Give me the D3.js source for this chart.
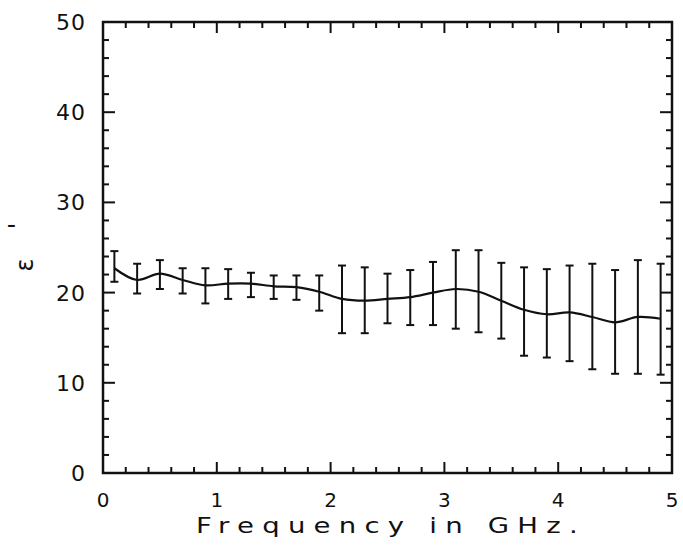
<!DOCTYPE html>
<html>
<head>
<script src="https://d3js.org/d3.v7.min.js"></script>
<style>
  body { margin: 0; background: #fff; }
  text { font-family: "DejaVu Sans", sans-serif; fill: #111; }
</style>
</head>
<body>
<svg id="chart" width="683" height="550"></svg>
<script>
// frequency (GHz), permittivity mean and error bar ends
const freq = [0.1, 0.3, 0.5, 0.7, 0.9, 1.1, 1.3, 1.5, 1.7, 1.9, 2.1, 2.3, 2.5,
              2.7, 2.9, 3.1, 3.3, 3.5, 3.7, 3.9, 4.1, 4.3, 4.5, 4.7, 4.9];
const eps  = [22.7, 21.4, 22.1, 21.4, 20.8, 21.0, 21.0, 20.7, 20.6, 20.1, 19.3, 19.1, 19.3,
              19.5, 20.0, 20.4, 20.1, 19.1, 18.1, 17.6, 17.8, 17.3, 16.7, 17.3, 17.1];
const hi   = [24.6, 23.2, 23.6, 22.7, 22.7, 22.6, 22.2, 21.9, 21.9, 21.9, 23.0, 22.8, 22.1,
              22.5, 23.4, 24.7, 24.7, 23.3, 22.8, 22.6, 23.0, 23.2, 22.5, 23.6, 23.2];
const lo   = [21.2, 19.9, 20.4, 19.9, 18.8, 19.3, 19.5, 19.3, 19.2, 18.0, 15.5, 15.5, 16.6,
              16.4, 16.4, 16.0, 15.6, 14.9, 13.0, 12.8, 12.4, 11.5, 11.0, 11.0, 10.9];
const xTicks = [0, 1, 2, 3, 4, 5];
const yTicks = [0, 10, 20, 30, 40, 50];

const pl = 103, pr = 672, pt = 22, pb = 473;
const svg = d3.select("#chart");
const x = d3.scaleLinear().domain([0, 5]).range([pl, pr]);
const y = d3.scaleLinear().domain([0, 50]).range([pb, pt]);

const minorX = d3.range(0, 5.001, 0.2);
const minorY = d3.range(0, 50.001, 2);
const tick = svg.append("g").attr("stroke", "#111").attr("stroke-width", 2);

// ticks on all four sides, pointing inward
minorX.forEach(v => {
  const major = Math.abs(v - Math.round(v)) < 1e-6;
  const len = major ? 11 : 6;
  tick.append("line").attr("x1", x(v)).attr("x2", x(v)).attr("y1", pb).attr("y2", pb - len);
  tick.append("line").attr("x1", x(v)).attr("x2", x(v)).attr("y1", pt).attr("y2", pt + len);
});
minorY.forEach(v => {
  const major = Math.round(v) % 10 === 0;
  const len = major ? 12 : 6;
  tick.append("line").attr("y1", y(v)).attr("y2", y(v)).attr("x1", pl).attr("x2", pl + len);
  tick.append("line").attr("y1", y(v)).attr("y2", y(v)).attr("x1", pr).attr("x2", pr - len);
});

svg.append("rect")
  .attr("x", pl).attr("y", pt)
  .attr("width", pr - pl).attr("height", pb - pt)
  .attr("fill", "none").attr("stroke", "#111").attr("stroke-width", 2.5);

svg.append("g").selectAll("text").data(xTicks).join("text")
  .attr("x", d => x(d)).attr("y", 507)
  .attr("text-anchor", "middle")
  .style("font-size", "20px")
  .text(d => d);

svg.append("g").selectAll("text").data(yTicks).join("text")
  .attr("x", 86).attr("y", d => y(d) + 8)
  .attr("text-anchor", "end")
  .style("font-size", "22px").style("letter-spacing", "1px")
  .text(d => d);

// wide plotter-style axis title: stretch glyphs horizontally
svg.append("text")
  .attr("transform", "translate(391,533) scale(1.25,1)")
  .attr("text-anchor", "middle")
  .style("font-size", "22px").style("letter-spacing", "6.6px")
  .text("Frequency in GHz.");

// y label: epsilon prime, rotated
svg.append("text")
  .attr("transform", "translate(33,265) rotate(-90)")
  .attr("text-anchor", "middle")
  .style("font-size", "24px")
  .text("ε");
svg.append("text")
  .attr("transform", "translate(26,226) rotate(-90)")
  .attr("text-anchor", "middle")
  .style("font-size", "24px")
  .text("'");

// error bars
const bars = svg.append("g").attr("stroke", "#111").attr("stroke-width", 2);
freq.forEach((f, i) => {
  bars.append("line").attr("x1", x(f)).attr("x2", x(f)).attr("y1", y(lo[i])).attr("y2", y(hi[i]));
  bars.append("line").attr("x1", x(f) - 4).attr("x2", x(f) + 4).attr("y1", y(lo[i])).attr("y2", y(lo[i]));
  bars.append("line").attr("x1", x(f) - 4).attr("x2", x(f) + 4).attr("y1", y(hi[i])).attr("y2", y(hi[i]));
});

const line = d3.line()
  .x((d, i) => x(freq[i]))
  .y(d => y(d))
  .curve(d3.curveCatmullRom);

svg.append("path")
  .datum(eps)
  .attr("d", line)
  .attr("fill", "none")
  .attr("stroke", "#111")
  .attr("stroke-width", 2.2);
</script>
</body>
</html>
